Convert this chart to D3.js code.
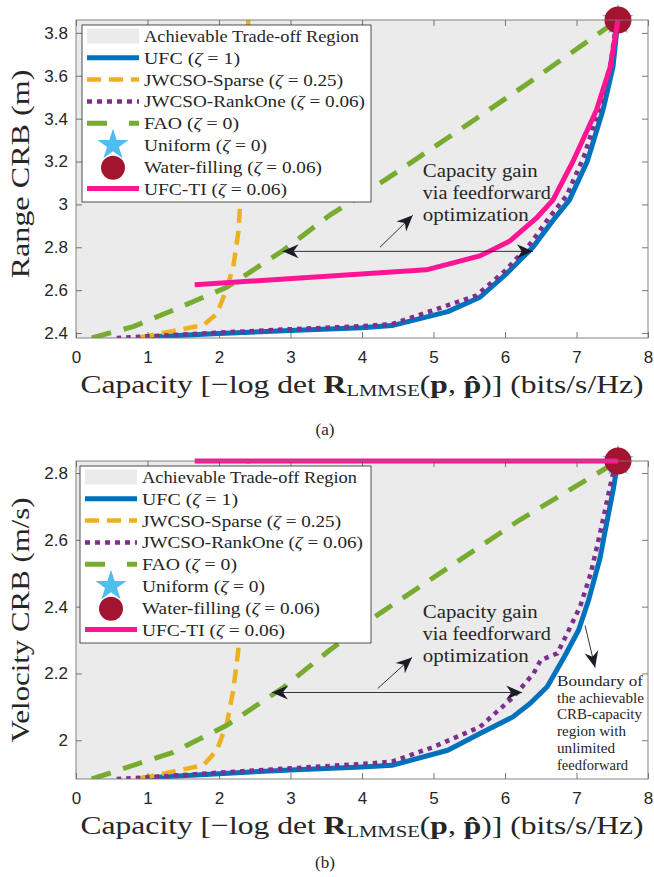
<!DOCTYPE html>
<html>
<head>
<meta charset="utf-8">
<script src="https://cdn.jsdelivr.net/npm/d3@7"></script>
<style>
  body { margin: 0; background: #fff; }
  text { font-family: "Liberation Serif", serif; fill: #262626; }
  .tick text { font-family: "Liberation Sans", Arial, sans-serif; font-size: 17px; fill: #262626; }
</style>
</head>
<body>
<div id="container"></div>
<script>
let w = 654;
let h = 877;

// axes
let xTicks = [0, 1, 2, 3, 4, 5, 6, 7, 8];
let xDomain = [0, 8];
let rangeTicks = [2.4, 2.6, 2.8, 3, 3.2, 3.4, 3.6, 3.8];
let rangeDomain = [2.377, 3.86];
let velTicks = [2, 2.2, 2.4, 2.6, 2.8];
let velDomain = [1.884, 2.836];

// (a) range CRB vs capacity
let rangeUFC = [[0.85,2.377],[1,2.382],[2,2.398],[3,2.412],[4,2.425],[4.42,2.435],[5.2,2.5],[5.65,2.567],[6.03,2.68],[6.39,2.8],[6.67,2.925],[6.9,3.02],[7.15,3.2],[7.37,3.44],[7.51,3.64],[7.58,3.86]];
let rangeSparse = [[0.9,2.38],[1.78,2.437],[1.97,2.49],[2.1,2.6],[2.2,2.71],[2.27,2.87],[2.3,3.02],[2.35,3.4],[2.41,3.86]];
let rangeRankOne = [[0.57,2.377],[1,2.385],[2,2.402],[3,2.418],[4,2.432],[4.42,2.442],[5.0,2.507],[5.6,2.575],[6.0,2.69],[6.35,2.815],[6.62,2.94],[6.86,3.04],[7.1,3.22],[7.33,3.46],[7.48,3.66],[7.56,3.86]];
let rangeFAO = [[0.22,2.377],[0.8,2.43],[1.36,2.507],[2.11,2.614],[2.9,2.786],[3.55,2.95],[4.35,3.12],[5.33,3.34],[6.3,3.56],[7.58,3.86]];
let rangeTI = [[1.66,2.625],[4.9,2.695],[5.65,2.76],[6.07,2.83],[6.45,2.94],[6.67,3.02],[6.95,3.2],[7.28,3.44],[7.47,3.64],[7.58,3.86]];
let rangeUniform = [7.58, 3.86];
let rangeWater = [7.58, 3.86];

// (b) velocity CRB vs capacity
let velUFC = [[0.85,1.884],[1,1.888],[2,1.9],[3,1.911],[4,1.92],[4.42,1.925],[5.2,1.97],[5.65,2.02],[6.11,2.07],[6.35,2.11],[6.59,2.16],[6.83,2.25],[7.03,2.33],[7.17,2.42],[7.33,2.546],[7.42,2.648],[7.51,2.746],[7.58,2.836]];
let velSparse = [[0.9,1.886],[1.78,1.925],[1.97,1.97],[2.11,2.05],[2.2,2.15],[2.27,2.27],[2.32,2.5],[2.41,2.836]];
let velRankOne = [[0.57,1.884],[1,1.889],[2,1.903],[3,1.916],[4,1.929],[4.42,1.936],[5.0,1.98],[5.65,2.04],[6.11,2.128],[6.4,2.2],[6.5,2.24],[6.73,2.26],[6.87,2.32],[7.05,2.4],[7.2,2.5],[7.33,2.62],[7.45,2.74],[7.55,2.836]];
let velFAO = [[0.22,1.884],[1.36,1.964],[2.11,2.045],[2.9,2.158],[3.55,2.27],[4.25,2.38],[6.21,2.66],[7.58,2.836]];
let velTI = [[1.66,2.836],[7.58,2.836]];
let velUniform = [7.58, 2.836];
let velWater = [7.58, 2.836];

// legend
let legendNames = ["Achievable Trade-off Region", "UFC", "JWCSO-Sparse", "JWCSO-RankOne", "FAO", "Uniform", "Water-filling", "UFC-TI"];
let legendZeta = ["", "1", "0.25", "0.06", "0", "0", "0.06", "0.06"];
let legendWidths = [215, 96, 199, 221, 95, 123, 178, 143];

// annotations (data units)
let rangeGainArrow = [[2.89, 2.781], [6.39, 2.781]];
let rangeDiagArrow = [[4.25, 2.8], [4.71, 2.949]];
let rangeGainText = [4.85, [3.126, 3.023, 2.921]];
let velGainArrow = [[2.74, 2.143], [6.24, 2.143]];
let velDiagArrow = [[4.22, 2.155], [4.7, 2.248]];
let velGainText = [4.85, [2.367, 2.301, 2.233]];
let boundaryArrow = [[7.12, 2.343], [7.26, 2.218]];
let gainLines = ["Capacity gain", "via feedforward", "optimization"];
let gainWidths = [115, 128, 106];
let boundaryLines = ["Boundary of", "the achievable", "CRB-capacity", "region with", "unlimited", "feedforward"];
let boundaryWidths = [86, 87, 85, 69, 58, 71];

let styles = [
  { color: "#0072BD", width: 5, dash: null },
  { color: "#EDB120", width: 4.5, dash: "14,8", legendDash: "14,8" },
  { color: "#7E2F8E", width: 4.5, dash: "4.5,5", legendDash: "5,5" },
  { color: "#77AC30", width: 5, dash: "20,13", legendDash: "20,22" },
  { color: "#FF1493", width: 5, dash: null }
];
let regionColor = "#ebebeb";
let starColor = "#4DBEEE";
let circleColor = "#A2142F";
let arrowColor = "#1c1c28";

let viz = d3.select("#container")
  .append("svg")
    .attr("width", w)
    .attr("height", h)
    .style("background-color", "white");

function arrowHead(g, tip, from) {
  let ang = Math.atan2(tip[1] - from[1], tip[0] - from[0]) * 180 / Math.PI;
  g.append("path")
    .attr("d", "M0,0 L-16,-7 L-11,0 L-16,7 Z")
    .attr("fill", arrowColor)
    .attr("transform", "translate(" + tip[0] + "," + tip[1] + ") rotate(" + ang + ")");
}

function drawArrow(g, x, y, pts, twoHeads) {
  let a = [x(pts[0][0]), y(pts[0][1])];
  let b = [x(pts[1][0]), y(pts[1][1])];
  g.append("line")
    .attr("x1", a[0]).attr("y1", a[1])
    .attr("x2", b[0]).attr("y2", b[1])
    .attr("stroke", arrowColor)
    .attr("stroke-width", 0.9);
  arrowHead(g, b, a);
  if (twoHeads) arrowHead(g, a, b);
}

function drawPanel(p) {
  let x = d3.scaleLinear().domain(xDomain).range([76, 648]);
  let y = d3.scaleLinear().domain(p.domain).range([p.bottom, p.top]);
  let g = viz.append("g");

  g.append("clipPath").attr("id", "clip" + p.id)
    .append("rect")
      .attr("x", 76).attr("y", p.top - 3)
      .attr("width", 572).attr("height", p.bottom - p.top + 3);

  // achievable region: everything left of / above the UFC boundary
  let ufc = p.series[0];
  let region = [[xDomain[0], p.domain[0]]].concat(ufc)
    .concat([[ufc[ufc.length - 1][0], p.domain[1]], [xDomain[0], p.domain[1]]]);
  g.append("path")
    .attr("d", d3.line().x(d => x(d[0])).y(d => y(d[1]))(region) + "Z")
    .attr("fill", regionColor);

  let line = d3.line().x(d => x(d[0])).y(d => y(d[1]));
  let lines = g.append("g").attr("clip-path", "url(#clip" + p.id + ")");

  // draw order = legend order; markers before UFC-TI
  p.series.forEach(function (s, i) {
    if (i == 4) {
      g.append("path")
        .attr("d", d3.symbol().type(d3.symbolStar).size(300)())
        .attr("transform", "translate(" + x(p.uniform[0]) + "," + y(p.uniform[1]) + ")")
        .attr("fill", starColor);
      g.append("circle")
        .attr("cx", x(p.water[0])).attr("cy", y(p.water[1]))
        .attr("r", 13.5)
        .attr("fill", circleColor);
      lines = g.append("g").attr("clip-path", "url(#clip" + p.id + ")");
    }
    lines.append("path")
      .attr("d", line(s))
      .attr("fill", "none")
      .attr("stroke", styles[i].color)
      .attr("stroke-width", styles[i].width)
      .attr("stroke-dasharray", styles[i].dash)
      .attr("stroke-linejoin", "round");
  });

  // axes
  let fmt = d => String(d);
  g.append("g").attr("transform", "translate(0," + p.bottom + ")")
    .call(d3.axisBottom(x).tickValues(xTicks).tickSize(-6).tickPadding(13).tickFormat(fmt));
  g.append("g").attr("transform", "translate(0," + p.top + ")")
    .call(d3.axisTop(x).tickValues(xTicks).tickSize(-6).tickFormat(""));
  g.append("g").attr("transform", "translate(76,0)")
    .call(d3.axisLeft(y).tickValues(p.ticks).tickSize(-6).tickPadding(8).tickFormat(fmt));
  g.append("g").attr("transform", "translate(648,0)")
    .call(d3.axisRight(y).tickValues(p.ticks).tickSize(-6).tickFormat(""));
  g.selectAll(".domain").remove();
  g.selectAll(".tick line").attr("stroke", "#555").attr("stroke-width", 0.8);
  g.selectAll(".tick text").attr("fill", "#262626");
  g.append("rect")
    .attr("x", 76).attr("y", p.top)
    .attr("width", 572).attr("height", p.bottom - p.top)
    .attr("fill", "none")
    .attr("stroke", "#777")
    .attr("stroke-width", 0.9);

  // annotations
  let ann = g.append("g");
  drawArrow(ann, x, y, p.gainArrow, true);
  drawArrow(ann, x, y, p.diagArrow, false);
  gainLines.forEach(function (t, i) {
    ann.append("text")
      .attr("x", x(p.gainText[0])).attr("y", y(p.gainText[1][i]))
      .attr("font-size", 18.5)
      .attr("textLength", gainWidths[i])
      .attr("lengthAdjust", "spacingAndGlyphs")
      .text(t);
  });
  if (p.boundary) {
    drawArrow(ann, x, y, boundaryArrow, false);
    boundaryLines.forEach(function (t, i) {
      ann.append("text")
        .attr("x", 557).attr("y", 686 + i * 16.7)
        .attr("font-size", 14)
        .attr("textLength", boundaryWidths[i])
        .attr("lengthAdjust", "spacingAndGlyphs")
        .text(t);
    });
  }

  // legend
  let lg = g.append("g");
  lg.append("rect")
    .attr("x", p.legend.x).attr("y", p.legend.y)
    .attr("width", p.legend.w).attr("height", p.legend.h)
    .attr("fill", "white")
    .attr("stroke", "#262626")
    .attr("stroke-width", 0.8);
  legendNames.forEach(function (name, i) {
    let cy = p.legend.y + 11 + i * 21.8;
    let x0 = p.legend.x + 5, x1 = p.legend.x + 57;
    if (i == 0) {
      lg.append("rect").attr("x", x0).attr("y", cy - 7.5)
        .attr("width", x1 - x0).attr("height", 15).attr("fill", regionColor);
    } else if (i == 5) {
      lg.append("path")
        .attr("d", d3.symbol().type(d3.symbolStar).size(300)())
        .attr("transform", "translate(" + (x0 + 26) + "," + cy + ")")
        .attr("fill", starColor);
    } else if (i == 6) {
      lg.append("circle").attr("cx", x0 + 26).attr("cy", cy + 1).attr("r", 12)
        .attr("fill", circleColor);
    } else {
      let st = styles[i < 5 ? i - 1 : 4];
      lg.append("line")
        .attr("x1", x0).attr("x2", x1).attr("y1", cy).attr("y2", cy)
        .attr("stroke", st.color)
        .attr("stroke-width", st.width)
        .attr("stroke-dasharray", st.legendDash || null);
    }
    let t = lg.append("text")
      .attr("x", p.legend.x + 62).attr("y", cy + 6)
      .attr("font-size", 17)
      .attr("textLength", legendWidths[i])
      .attr("lengthAdjust", "spacingAndGlyphs");
    if (legendZeta[i] === "") {
      t.text(name);
    } else {
      t.append("tspan").text(name + " (");
      t.append("tspan").attr("font-style", "italic").text("\u03B6");
      t.append("tspan").text(" = " + legendZeta[i] + ")");
    }
  });

  // axis labels
  let xl = g.append("text")
    .attr("x", 362).attr("y", p.bottom + 55)
    .attr("text-anchor", "middle")
    .attr("font-size", 26)
    .attr("textLength", 563)
    .attr("lengthAdjust", "spacingAndGlyphs");
  xl.append("tspan").text("Capacity [\u2212log det ");
  xl.append("tspan").attr("font-weight", "bold").text("R");
  xl.append("tspan").attr("font-size", 17).attr("dy", 3).text("LMMSE");
  xl.append("tspan").attr("dy", -3).text("(");
  xl.append("tspan").attr("font-weight", "bold").text("p");
  xl.append("tspan").text(", ");
  xl.append("tspan").attr("font-weight", "bold").text("p\u0302");
  xl.append("tspan").text(")] (bits/s/Hz)");

  g.append("text")
    .attr("transform", "translate(29," + p.ylabelY + ") rotate(-90)")
    .attr("text-anchor", "middle")
    .attr("font-size", 26)
    .attr("textLength", p.ylabelW)
    .attr("lengthAdjust", "spacingAndGlyphs")
    .text(p.ylabel);

  g.append("text")
    .attr("x", 325).attr("y", p.capY)
    .attr("text-anchor", "middle")
    .attr("font-size", 17)
    .text(p.caption);
}

drawPanel({
  id: "a", top: 20, bottom: 338, domain: rangeDomain, ticks: rangeTicks,
  series: [rangeUFC, rangeSparse, rangeRankOne, rangeFAO, rangeTI],
  uniform: rangeUniform, water: rangeWater,
  gainArrow: rangeGainArrow, diagArrow: rangeDiagArrow, gainText: rangeGainText,
  boundary: false,
  legend: { x: 82, y: 25, w: 289, h: 177 },
  ylabel: "Range CRB (m)", ylabelY: 174, ylabelW: 209,
  caption: "(a)", capY: 435
});

drawPanel({
  id: "b", top: 461, bottom: 779, domain: velDomain, ticks: velTicks,
  series: [velUFC, velSparse, velRankOne, velFAO, velTI],
  uniform: velUniform, water: velWater,
  gainArrow: velGainArrow, diagArrow: velDiagArrow, gainText: velGainText,
  boundary: true,
  legend: { x: 80, y: 466, w: 291, h: 177 },
  ylabel: "Velocity CRB (m/s)", ylabelY: 620, ylabelW: 245,
  caption: "(b)", capY: 868
});
</script>
</body>
</html>
